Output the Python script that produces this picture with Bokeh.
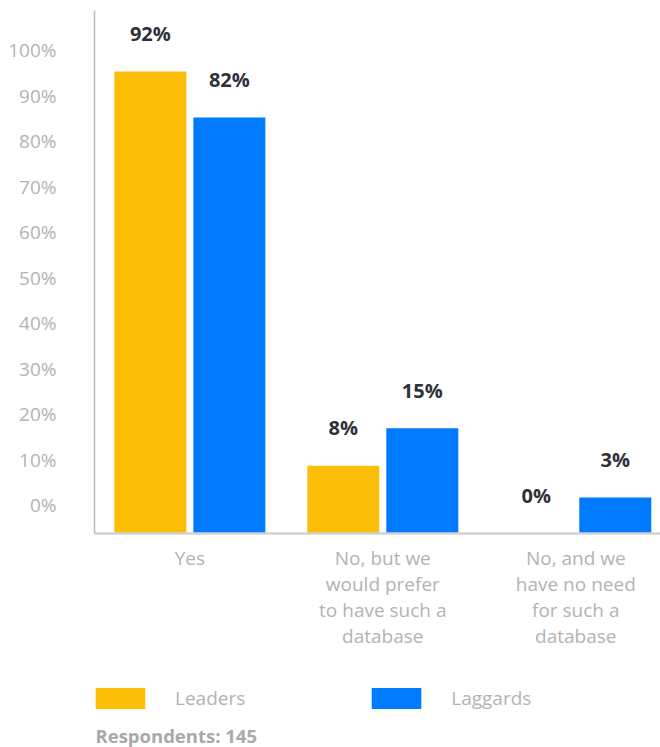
import numpy as np
from bokeh.plotting import figure
from bokeh.layouts import column
from bokeh.models import (ColumnDataSource, Range1d, FixedTicker, Legend,
                          LegendItem, Label)
from bokeh.transform import dodge
from bokeh.core.properties import value
from bokeh.embed import file_html
from bokeh.resources import INLINE

# ---- data -------------------------------------------------------------
categories = [
    "Yes",
    "No, but we\nwould prefer\nto have such a\ndatabase",
    "No, and we\nhave no need\nfor such a\ndatabase",
]
series_names = ["Leaders", "Laggards"]
leaders_pct = [92, 8, 0]          # printed values
laggards_pct = [82, 15, 3]
# bar lengths as drawn in the reference, in y-axis units (one tick step = 10)
leaders_bar = [101.5, 14.9, 0.0]
laggards_bar = [91.4, 23.1, 7.9]
tick_values = [0, 10, 20, 30, 40, 50, 60, 70, 80, 90, 100]
tick_labels = [f"{v}%" for v in tick_values]
respondents = 145

# ---- style ------------------------------------------------------------
FONT = "Open Sans"
YELLOW = "#FDBE07"
BLUE = "#007BFF"
GREY_TXT = "#B3B3B3"
DARK_TXT = "#2E3139"
AXIS_ZERO = 6.2        # where the "0%" tick sits above the bar baseline
BAR_W = 0.373
OFFSET = 0.2047

xs = np.arange(len(categories)) + 0.5
src = ColumnDataSource(dict(
    x=xs,
    leaders=leaders_bar,
    laggards=laggards_bar,
    leaders_txt=[f"{v}%" for v in leaders_pct],
    laggards_txt=[f"{v}%" for v in laggards_pct],
))

p = figure(width=660, height=660,
           x_range=Range1d(0.006, 2.939), y_range=Range1d(0, 114.9),
           output_backend="svg", toolbar_location=None,
           min_border_left=94, min_border_right=0, min_border_top=10,
           min_border_bottom=127)
p.background_fill_color = "white"
p.border_fill_color = "white"
p.outline_line_color = None
p.grid.visible = False

r1 = p.vbar(x=dodge("x", -OFFSET, range=p.x_range), top="leaders", bottom=0,
            width=BAR_W, source=src, fill_color=YELLOW, line_color=None)
r2 = p.vbar(x=dodge("x", OFFSET, range=p.x_range), top="laggards", bottom=0,
            width=BAR_W, source=src, fill_color=BLUE, line_color=None)

for col, off in (("leaders", -OFFSET), ("laggards", OFFSET)):
    p.text(x=dodge("x", off, range=p.x_range), y=col, text=col + "_txt",
           source=src, y_offset=-38, text_align="center",
           text_baseline="middle", text_font=value(FONT),
           text_font_style="bold", text_font_size="20px", text_color=DARK_TXT)

# y axis
p.yaxis.ticker = FixedTicker(ticks=[AXIS_ZERO + v for v in tick_values])
p.yaxis.major_label_overrides = {AXIS_ZERO + v: lab
                                 for v, lab in zip(tick_values, tick_labels)}
p.yaxis.major_tick_out = 0
p.yaxis.major_tick_in = 0
p.yaxis.minor_tick_out = 0
p.yaxis.minor_tick_in = 0
p.yaxis.major_label_standoff = 38
p.yaxis.axis_line_color = "#B8B8B8"
p.yaxis.axis_line_width = 1.5
p.yaxis.major_label_text_font = FONT
p.yaxis.major_label_text_font_size = "19px"
p.yaxis.major_label_text_color = GREY_TXT

# x axis
p.xaxis.ticker = FixedTicker(ticks=list(xs))
p.xaxis.major_label_overrides = {float(x): c for x, c in zip(xs, categories)}
p.xaxis.major_tick_out = 0
p.xaxis.major_tick_in = 0
p.xaxis.minor_tick_out = 0
p.xaxis.minor_tick_in = 0
p.xaxis.major_label_standoff = 11
p.xaxis.axis_line_color = "#D2D2D2"
p.xaxis.axis_line_width = 2.5
p.xaxis.major_label_text_font = FONT
p.xaxis.major_label_text_font_size = "19px"
p.xaxis.major_label_text_line_height = 1.0
p.xaxis.major_label_text_color = GREY_TXT

# ---- legend strip + respondents note ------------------------------------
q = figure(width=660, height=87, x_axis_type=None, y_axis_type=None,
           output_backend="svg", toolbar_location=None,
           min_border=0, min_border_left=0, min_border_right=0,
           min_border_top=0, min_border_bottom=0)
q.outline_line_color = None
q.background_fill_color = "white"
q.border_fill_color = "white"
# zero-size bars: they only give the legend its swatch colours
q1 = q.vbar(x="x", top=0, bottom=0, width=0, source=src,
            fill_color=YELLOW, line_color=None)
q2 = q.vbar(x="x", top=0, bottom=0, width=0, source=src,
            fill_color=BLUE, line_color=None)

legend = Legend(items=[LegendItem(label=series_names[0], renderers=[q1]),
                       LegendItem(label=series_names[1], renderers=[q2])],
                location=(-5, 36), orientation="horizontal",
                glyph_width=62, glyph_height=26, label_height=26,
                label_standoff=24, spacing=120, padding=0, margin=0,
                border_line_alpha=0, background_fill_alpha=0,
                label_text_font=FONT, label_text_font_size="19px",
                label_text_color=GREY_TXT)
q.add_layout(legend)

q.add_layout(Label(x=1, y=12, x_units="screen", y_units="screen",
                   text=f"Respondents: {respondents}", text_font=FONT,
                   text_font_style="bold", text_font_size="18.5px",
                   text_color="#A9A9A9", text_baseline="middle"))

layout = column(p, q, spacing=0)
open("out.html", "w").write(file_html(layout, INLINE))
